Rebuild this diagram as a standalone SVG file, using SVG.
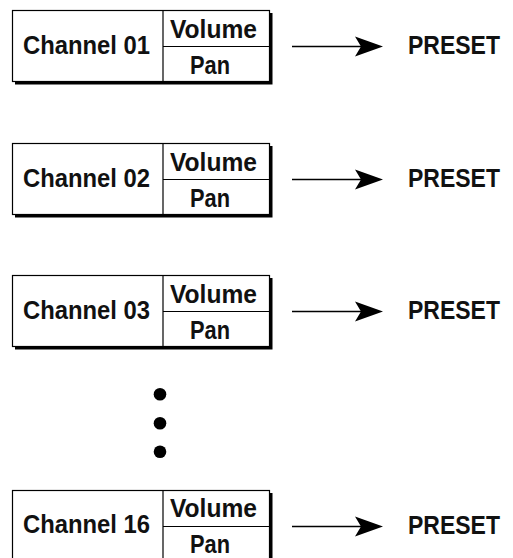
<svg xmlns="http://www.w3.org/2000/svg" width="513" height="558" viewBox="0 0 513 558">
<defs>
<style>
.shadow{fill:#000}
.box{fill:#fff;stroke:#000;stroke-width:1.2}
.div{stroke:#000;stroke-width:1.2;fill:none}
.t{font-family:"Liberation Sans",Arial,sans-serif;font-weight:bold;fill:#111;font-size:25px}
.p{font-family:"Liberation Sans",Arial,sans-serif;font-weight:bold;fill:#111;font-size:25.5px}
.conn{stroke:#000;stroke-width:1.5;fill:none}
.head{fill:#000}
</style>
<g id="chbox">
<rect class="shadow" x="15" y="13" width="257.5" height="71.5"/>
<rect class="box" x="12.5" y="10.5" width="257" height="71"/>
<line class="div" x1="163" y1="10.5" x2="163" y2="81.5"/>
<line class="div" x1="163" y1="46.5" x2="269.5" y2="46.5"/>
</g>
</defs>
<g id="channel01">
<use href="#chbox"/>
<text class="t" x="23" y="54.3" textLength="127" lengthAdjust="spacingAndGlyphs">Channel 01</text>
<text class="t" x="170" y="38" textLength="87" lengthAdjust="spacingAndGlyphs">Volume</text>
<text class="t" x="190" y="74" textLength="40" lengthAdjust="spacingAndGlyphs">Pan</text>
</g>
<g id="channel02">
<use href="#chbox" y="133"/>
<text class="t" x="23" y="187.3" textLength="127" lengthAdjust="spacingAndGlyphs">Channel 02</text>
<text class="t" x="170" y="171" textLength="87" lengthAdjust="spacingAndGlyphs">Volume</text>
<text class="t" x="190" y="207" textLength="40" lengthAdjust="spacingAndGlyphs">Pan</text>
</g>
<g id="channel03">
<use href="#chbox" y="265"/>
<text class="t" x="23" y="319.3" textLength="127" lengthAdjust="spacingAndGlyphs">Channel 03</text>
<text class="t" x="170" y="303" textLength="87" lengthAdjust="spacingAndGlyphs">Volume</text>
<text class="t" x="190" y="339" textLength="40" lengthAdjust="spacingAndGlyphs">Pan</text>
</g>
<g id="channel16">
<use href="#chbox" y="480"/>
<text class="t" x="23" y="532.5" textLength="127" lengthAdjust="spacingAndGlyphs">Channel 16</text>
<text class="t" x="170" y="516.5" textLength="87" lengthAdjust="spacingAndGlyphs">Volume</text>
<text class="t" x="190" y="552.5" textLength="40" lengthAdjust="spacingAndGlyphs">Pan</text>
</g>
<g id="preset01"><text class="p" x="408" y="54.3" textLength="92" lengthAdjust="spacingAndGlyphs">PRESET</text></g>
<g id="preset02"><text class="p" x="408" y="187.3" textLength="92" lengthAdjust="spacingAndGlyphs">PRESET</text></g>
<g id="preset03"><text class="p" x="408" y="319.3" textLength="92" lengthAdjust="spacingAndGlyphs">PRESET</text></g>
<g id="preset16"><text class="p" x="408" y="534" textLength="92" lengthAdjust="spacingAndGlyphs">PRESET</text></g>
<g id="ellipsis">
<circle cx="160" cy="394.3" r="6.3"/>
<circle cx="160" cy="423.3" r="6.3"/>
<circle cx="160" cy="451.7" r="6.3"/>
</g>
<g id="connectors">
<line class="conn" x1="292" y1="46.5" x2="362" y2="46.5"/>
<path class="head" d="M383,46.5 L355,36.5 L361,46.5 L355,56.5 Z"/>
<line class="conn" x1="292" y1="179.5" x2="362" y2="179.5"/>
<path class="head" d="M383,179.5 L355,169.5 L361,179.5 L355,189.5 Z"/>
<line class="conn" x1="292" y1="311.5" x2="362" y2="311.5"/>
<path class="head" d="M383,311.5 L355,301.5 L361,311.5 L355,321.5 Z"/>
<line class="conn" x1="292" y1="526.5" x2="362" y2="526.5"/>
<path class="head" d="M383,526.5 L355,516.5 L361,526.5 L355,536.5 Z"/>
</g>
</svg>
